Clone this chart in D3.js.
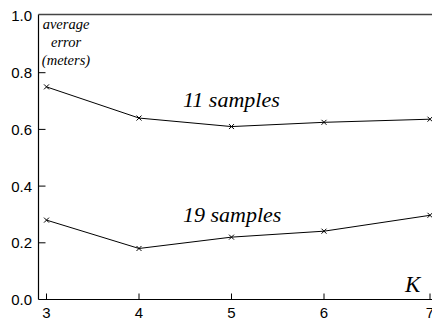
<!DOCTYPE html>
<html>
<head>
<meta charset="utf-8">
<script src="https://cdn.jsdelivr.net/npm/d3@7"></script>
<style>
  body { margin: 0; background: #fff; }
  svg { display: block; }
  .sans { font-family: "Liberation Sans", Arimo, Arial, sans-serif; }
  .serif { font-family: "Liberation Serif", Tinos, "Times New Roman", serif; font-style: italic; }
</style>
</head>
<body>
<div id="chart"></div>
<script>
// values
const kValues = [3, 4, 5, 6, 7]
const err11 = [0.75, 0.64, 0.61, 0.625, 0.636]
const err19 = [0.28, 0.18, 0.22, 0.241, 0.297]
const yTicks = [0.0, 0.2, 0.4, 0.6, 0.8, 1.0]
const seriesNames = ["11 samples", "19 samples"]

const width = 432, height = 321

const svg = d3.select("#chart").append("svg")
  .attr("width", width)
  .attr("height", height)

// the original scan is not quite linear on x, last step is wider
const x = d3.scaleLinear().domain([3, 6, 7]).range([46.5, 324, 430])
const y = d3.scaleLinear().domain([0, 1]).range([299.5, 16])

const frameLeft = 38.5, frameBottom = 299.5, frameTop = 14.5

// frame: left, bottom and top lines
svg.append("line")
  .attr("x1", frameLeft).attr("x2", frameLeft).attr("y1", frameTop).attr("y2", frameBottom)
  .attr("stroke", "#000").attr("stroke-width", 1.2)
svg.append("line")
  .attr("x1", frameLeft).attr("x2", width).attr("y1", frameBottom).attr("y2", frameBottom)
  .attr("stroke", "#000").attr("stroke-width", 1.2)
svg.append("line")
  .attr("x1", frameLeft).attr("x2", width).attr("y1", frameTop).attr("y2", frameTop)
  .attr("stroke", "#444").attr("stroke-width", 1.6)

// y ticks (inward)
const yAxis = svg.append("g").attr("class", "sans")
yAxis.selectAll("line").data(yTicks.slice(1, -1)).enter().append("line")
  .attr("x1", frameLeft).attr("x2", frameLeft + 7)
  .attr("y1", d => y(d)).attr("y2", d => y(d))
  .attr("stroke", "#000")
yAxis.selectAll("text").data(yTicks).enter().append("text")
  .attr("x", 32)
  .attr("y", d => y(d))
  .attr("dy", "0.36em")
  .attr("text-anchor", "end")
  .attr("font-size", 15)
  .text(d => d.toFixed(1))

// x ticks (inward)
const xAxis = svg.append("g").attr("class", "sans")
xAxis.selectAll("line").data(kValues).enter().append("line")
  .attr("x1", d => x(d)).attr("x2", d => x(d))
  .attr("y1", frameBottom).attr("y2", frameBottom - 6)
  .attr("stroke", "#000")
xAxis.selectAll("text").data(kValues).enter().append("text")
  .attr("x", d => x(d))
  .attr("y", 318)
  .attr("text-anchor", "middle")
  .attr("font-size", 15)
  .text(d => d)

// lines and cross markers
const line = d3.line()
  .x((d, i) => x(kValues[i]))
  .y(d => y(d))

const series = [err11, err19]
series.forEach(function(vals) {
  svg.append("path")
    .datum(vals)
    .attr("d", line)
    .attr("fill", "none")
    .attr("stroke", "#000")
    .attr("stroke-width", 1)

  svg.append("g").selectAll("path").data(vals).enter().append("path")
    .attr("transform", (d, i) => "translate(" + x(kValues[i]) + "," + y(d) + ")")
    .attr("d", d3.symbol().type(d3.symbolX).size(18))
    .attr("fill", "none")
    .attr("stroke", "#000")
    .attr("stroke-width", 1)
})

// labels
svg.selectAll(".series-label").data(seriesNames).enter().append("text")
  .attr("class", "series-label serif")
  .attr("x", 183)
  .attr("y", (d, i) => [107, 222][i])
  .attr("font-size", 22)
  .text(d => d)

const ylab = svg.append("text")
  .attr("class", "serif")
  .attr("font-size", 14.5)
  .attr("text-anchor", "middle")
;["average", "error", "(meters)"].forEach(function(t, i) {
  ylab.append("tspan").attr("x", 66).attr("y", 29 + i * 18).text(t)
})

svg.append("text")
  .attr("class", "serif")
  .attr("x", 405)
  .attr("y", 292)
  .attr("font-size", 23)
  .text("K")
</script>
</body>
</html>
